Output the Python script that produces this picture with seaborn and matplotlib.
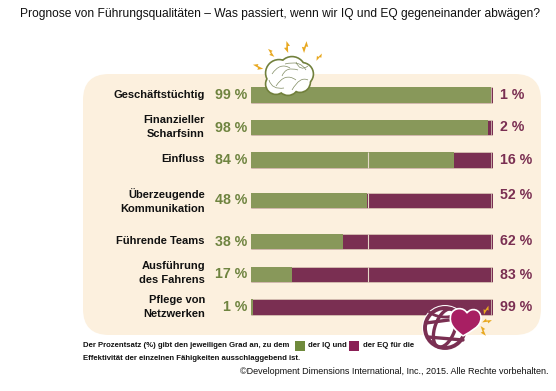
import numpy as np
import pandas as pd
import matplotlib
matplotlib.use("Agg")
import matplotlib.pyplot as plt
import seaborn as sns
from matplotlib.patches import FancyBboxPatch, Circle, Polygon, Ellipse, Arc, PathPatch, Rectangle
from matplotlib.path import Path

categories = ["Geschäftstüchtig", "Finanzieller\nScharfsinn", "Einfluss",
              "Überzeugende\nKommunikation", "Führende Teams",
              "Ausführung\ndes Fahrens", "Pflege von\nNetzwerken"]
iq_values = [99, 98, 84, 48, 38, 17, 1]
eq_values = [1, 2, 16, 52, 62, 83, 99]

# rows are not evenly spaced in the original (pixel y of each bar centre)
row_y = [95, 127.5, 160, 200.5, 241.5, 274.5, 307]
label_y = [95, 127, 159, 201, 241, 273, 307]
eq_label_y = [95, 127, 160, 195, 241, 275, 307]

GREEN = "#88985a"
GREEN_TXT = "#6f8440"
PLUM = "#7a2f52"
CREAM = "#fcf0de"
GOLD = "#e8a820"
PALE = "#dccbb8"

sns.set_style("white")
plt.rcParams['font.family'] = ['Liberation Sans', 'DejaVu Sans']

W, H = 556, 391
fig = plt.figure(figsize=(W / 100, H / 100), dpi=100)

bg = fig.add_axes([0, 0, 1, 1])
bg.set_xlim(0, W)
bg.set_ylim(H, 0)
bg.axis("off")
bg.add_patch(FancyBboxPatch((83, 74), 458, 261, boxstyle="round,pad=0,rounding_size=26",
                            fc=CREAM, ec="none"))

df = pd.DataFrame({"y": row_y, "iq": iq_values, "eq": eq_values})
df["total"] = df["iq"] + df["eq"]

# bar axes: 0-100 % runs from x=251 to x=493 px, y stays in pixels
ax = fig.add_axes([251 / W, 0, 242 / W, 1], facecolor="none")
bar_w = 15.5 / 32.5  # native_scale multiplies width by the smallest row gap
sns.barplot(data=df, x="total", y="y", orient="y", native_scale=True, color=PLUM,
            width=bar_w, saturation=1, ax=ax, edgecolor=PALE, linewidth=0.5)
sns.barplot(data=df, x="iq", y="y", orient="y", native_scale=True, color=GREEN,
            width=bar_w, saturation=1, ax=ax, linewidth=0)
ax.set_xlim(0, 100)
ax.set_ylim(H, 0)
ax.axis("off")

# pale rules in the original: mid line on the middle rows, end cap on all
for y in row_y[2:6]:
    ax.vlines(48.5, y - 7.7, y + 7.7, color="#e6d9c8", lw=0.8, zorder=5)
for y in row_y:
    ax.vlines(99.3, y - 7.7, y + 7.7, color="#e6d9c8", lw=0.5, zorder=5)

top = fig.add_axes([0, 0, 1, 1], facecolor="none")
top.set_xlim(0, W)
top.set_ylim(H, 0)
top.axis("off")

for c, y, ly, ey, iq, eq in zip(categories, row_y, label_y, eq_label_y, iq_values, eq_values):
    top.text(205, ly, c, ha="right", va="center", fontsize=8.0, fontweight="bold",
             color="#111111", linespacing=1.4)
    top.text(247, y, f"{iq} %", ha="right", va="center", fontsize=10.2, fontweight="bold",
             color=GREEN_TXT)
    top.text(500, ey, f"{eq} %", ha="left", va="center", fontsize=10.2, fontweight="bold",
             color=PLUM)

top.text(20, 14, "Prognose von Führungsqualitäten – Was passiert, wenn wir IQ und EQ gegeneinander abwägen?",
         fontsize=8.65, va="center", ha="left", color="#111111")

note = dict(fontsize=5.6, va="center", color="#111111", fontweight="bold")
top.text(83, 345.5, "Der Prozentsatz (%) gibt den jeweiligen Grad an, zu dem", **note)
top.add_patch(Rectangle((295, 341), 10, 10, fc="#6f8a3c", ec="none"))
top.text(308, 345.5, "der IQ und", **note)
top.add_patch(Rectangle((349, 341), 10, 10, fc="#8a1f55", ec="none"))
top.text(363, 345.5, "der EQ für die", **note)
top.text(83, 358, "Effektivität der einzelnen Fähigkeiten ausschlaggebend ist.", **note)
top.text(549, 371.5, "©Development Dimensions International, Inc., 2015. Alle Rechte vorbehalten.",
         fontsize=6.5, va="center", ha="right", color="#111111")


def bolt(cx, cy, s, ang):
    pts = np.array([[-0.1, -1], [0.5, -0.2], [0.15, -0.15], [0.2, 1], [-0.5, 0.15], [-0.12, 0.1]]) * s
    t = np.deg2rad(ang)
    R = np.array([[np.cos(t), -np.sin(t)], [np.sin(t), np.cos(t)]])
    top.add_patch(Polygon(pts @ R.T + [cx, cy], fc=GOLD, ec="none", zorder=6))


# brain: overlapping lobes, outline first then white fill on top
lobes = [(279, 73, 13), (292, 70, 13), (302, 74, 11), (276, 84, 10), (288, 85, 10), (300, 82, 10)]
for x, y, r in lobes:
    top.add_patch(Circle((x, y), r, fc="#71803c", ec="#71803c", lw=1.8, zorder=5))
for x, y, r in lobes:
    top.add_patch(Circle((x, y), r - 0.4, fc="white", ec="none", zorder=5))
for (x0, y0, x1, y1, x2, y2) in [(272, 74, 280, 62, 290, 68), (276, 86, 285, 72, 296, 80),
                                 (285, 64, 300, 60, 306, 70), (292, 90, 300, 76, 308, 80),
                                 (269, 80, 272, 90, 284, 88), (282, 76, 286, 66, 298, 70),
                                 (296, 62, 300, 72, 308, 66)]:
    top.add_patch(PathPatch(Path([(x0, y0), (x1, y1), (x2, y2)], [1, 3, 3]), fc="none",
                            ec="#7f8a60", lw=0.5, zorder=6))
for b in [(258, 67, 5.5, -60), (271, 53, 5, -30), (287, 47, 6, 0), (305, 47, 6, 20), (319, 57, 4.5, 45)]:
    bolt(*b)

# globe + heart
top.add_patch(Circle((445, 328), 23, fc="white", ec="none", zorder=5))
top.add_patch(Circle((445, 328), 20, fc="none", ec=PLUM, lw=2.8, zorder=6))
top.add_patch(Ellipse((445, 328), 20, 40, angle=20, fc="none", ec=PLUM, lw=2.4, zorder=6))
top.add_patch(Arc((445, 304), 40, 26, theta1=25, theta2=155, ec=PLUM, lw=2.0, zorder=6))
top.plot([426, 464], [323, 318], color=PLUM, lw=2.4, zorder=6)
top.plot([428, 463], [337, 340], color=PLUM, lw=2.4, zorder=6)
heart = Path([(463, 336), (455, 330), (448, 324), (451, 314), (454, 307), (464, 307), (467, 313),
              (471, 307), (481, 309), (481, 318), (481, 327), (471, 331), (463, 336)],
             [1] + [4] * 12)
top.add_patch(PathPatch(heart, fc="#a81f63", ec="white", lw=1.2, zorder=7))
for b in [(486, 310, 5, 35), (487, 321, 5, 85), (483, 331, 5.5, -20), (475, 318, 3, -25)]:
    bolt(*b)

fig.savefig("out.png", dpi=100)
